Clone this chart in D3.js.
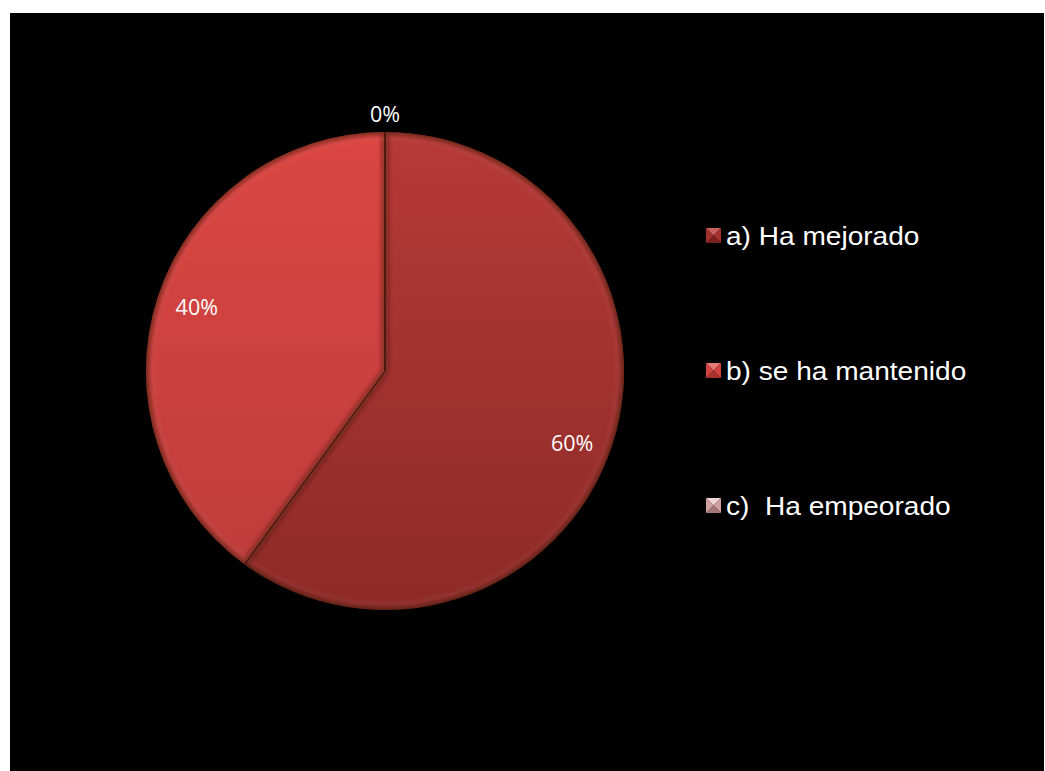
<!DOCTYPE html>
<html>
<head>
<meta charset="utf-8">
<script src="https://cdn.jsdelivr.net/npm/d3@7"></script>
<style>
  html, body { margin: 0; padding: 0; background: #ffffff; }
  svg { display: block; }
</style>
</head>
<body>
<svg id="chart" width="1045" height="771"></svg>
<script>
// Survey answers and their shares (percent)
const categories = ["a) Ha mejorado", "b) se ha mantenido", "c)  Ha empeorado"];
const values = [60, 40, 0];
const valueLabels = ["60%", "40%", "0%"];

// Fill gradients per category: [top colour, bottom colour]
const sliceTop = ["#b73a37", "#dc4643", "#e8b4b4"];
const sliceBottom = ["#8c2a28", "#bb3c39", "#c08a8a"];
// Legend marker facets: [top, left/right, bottom]
const markerTones = [
  ["#c8605c", "#a4302d", "#7a2220"],
  ["#e87a76", "#d24340", "#a8302d"],
  ["#f0d4d4", "#d0a0a0", "#a87878"]
];

const svg = d3.select("#chart");

// Chart area (black slide background with a white margin)
svg.append("rect").attr("x", 10).attr("y", 13).attr("width", 1034).attr("height", 758).attr("fill", "#000");

const cx = 385, cy = 371, R = 239;
const defs = svg.append("defs");

// Vertical gradients, expressed relative to the pie centre
categories.forEach((c, i) => {
  const g = defs.append("linearGradient")
    .attr("id", "grad" + i)
    .attr("gradientUnits", "userSpaceOnUse")
    .attr("x1", 0).attr("y1", -R).attr("x2", 0).attr("y2", R);
  g.append("stop").attr("offset", "0%").attr("stop-color", sliceTop[i]);
  g.append("stop").attr("offset", "100%").attr("stop-color", sliceBottom[i]);
});

// Soft edge blur used for the bevel rims
const blur = defs.append("filter").attr("id", "soft").attr("x", "-10%").attr("y", "-10%").attr("width", "120%").attr("height", "120%");
blur.append("feGaussianBlur").attr("stdDeviation", 2.2);

const pie = d3.pie().sort(null).value(d => d)(values);
const arc = d3.arc().innerRadius(0).outerRadius(R);

const g = svg.append("g").attr("transform", `translate(${cx},${cy})`);

pie.forEach((p, i) => {
  if (p.endAngle - p.startAngle <= 0) return;
  const path = arc(p);
  const clipId = "clip" + i;
  defs.append("clipPath").attr("id", clipId).append("path").attr("d", path);

  const sg = g.append("g");
  sg.append("path").attr("d", path).attr("fill", `url(#grad${i})`);

  const rim = sg.append("g").attr("clip-path", `url(#${clipId})`);
  // dark inner rim along every edge
  rim.append("path").attr("d", path).attr("fill", "none")
    .attr("stroke", "#3a0c0b").attr("stroke-opacity", 0.55).attr("stroke-width", 7)
    .attr("filter", "url(#soft)");
  // light highlight just inside the rim
  rim.append("path").attr("d", d3.arc().innerRadius(0).outerRadius(R - 5)(p)).attr("fill", "none")
    .attr("stroke", "#ff9a90").attr("stroke-opacity", 0.18).attr("stroke-width", 3)
    .attr("filter", "url(#soft)");
});

// Slice boundaries
pie.forEach(p => {
  const a = p.startAngle;
  g.append("line")
    .attr("x1", 0).attr("y1", 0)
    .attr("x2", R * Math.sin(a)).attr("y2", -R * Math.cos(a))
    .attr("stroke", "#3b0f0e").attr("stroke-width", 1.2).attr("stroke-opacity", 0.8);
});

// Value labels
const labelArc = d3.arc().innerRadius(200).outerRadius(200);
pie.forEach((p, i) => {
  let x, y;
  if (p.endAngle - p.startAngle <= 0) {
    const a = p.startAngle;
    x = (R + 19) * Math.sin(a);
    y = -(R + 19) * Math.cos(a);
  } else {
    [x, y] = labelArc.centroid(p);
    if (i === 0) { y += 10; x -= 3; }
    else { y -= 3; x += 2; }
  }
  g.append("text")
    .attr("x", x).attr("y", y)
    .attr("text-anchor", "middle").attr("dominant-baseline", "central")
    .attr("font-family", "'Open Sans', sans-serif").attr("font-size", 21.5)
    .attr("fill", "#ffffff")
    .text(valueLabels[i]);
});

// Legend
const legendY = d3.scalePoint().domain(categories).range([236, 506]);
const legend = svg.append("g");
categories.forEach((c, i) => {
  const y = legendY(c);
  const x0 = 706, s = 15, y0 = y - 8;
  const t = markerTones[i];
  const mx = x0 + s / 2, my = y0 + s / 2;
  const corners = [[x0, y0], [x0 + s, y0], [x0 + s, y0 + s], [x0, y0 + s]];
  const facetFill = [t[0], t[1], t[2], t[1]];
  for (let k = 0; k < 4; k++) {
    const a = corners[k], b = corners[(k + 1) % 4];
    legend.append("path")
      .attr("d", `M${a[0]},${a[1]}L${b[0]},${b[1]}L${mx},${my}Z`)
      .attr("fill", facetFill[k]);
  }
  legend.append("text")
    .attr("transform", `translate(726,${y}) scale(1.08,1)`)
    .attr("dominant-baseline", "central")
    .attr("font-family", "'Liberation Sans', Arial, sans-serif").attr("font-size", 26)
    .attr("fill", "#ffffff")
    .style("white-space", "pre")
    .text(c);
});
</script>
</body>
</html>
